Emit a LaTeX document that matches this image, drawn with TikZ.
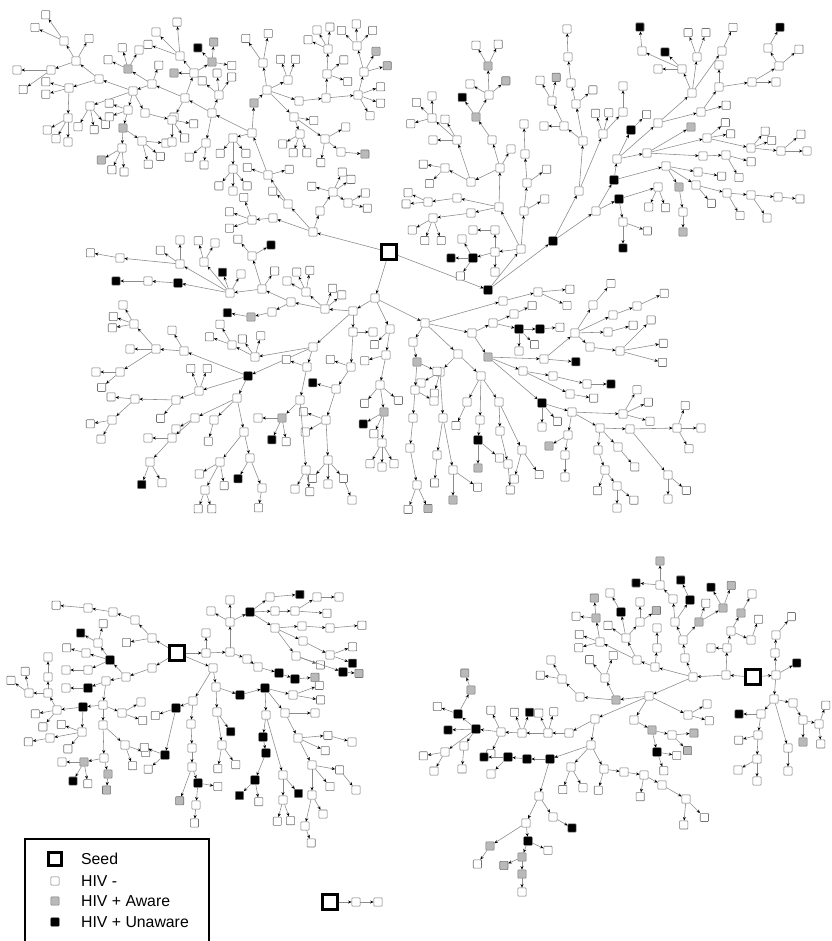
\documentclass[tikz,border=0pt]{standalone}
\usepackage{fontspec}
\setmainfont{Liberation Sans}
\usetikzlibrary{calc,arrows.meta}
\colorlet{N}{white}
\colorlet{A}{gray!55}
\colorlet{U}{black}
\tikzset{%
	nd/.style   = {rectangle, draw=black!55, line width=0.5pt, minimum size=7pt,
		inner sep=0pt, rounded corners=0.6pt},
	hn/.style   = {nd, fill=white}, % HIV -
	ha/.style   = {nd, fill=gray!55}, % HIV + aware
	hu/.style   = {nd, fill=black, draw=black}, % HIV + unaware
	seed/.style = {rectangle, draw=black, line width=2.8pt, fill=white,
		minimum size=12.5pt, inner sep=0pt},
	lnk/.style  = {draw=black!45, line width=0.5pt,
		-{Stealth[length=3pt,width=2.6pt,color=black]}}
}
% one recruit placed at (x,y), linked from its recruiter
\newcommand{\hub}[4]{\node[#2] (#1) at (#3) {}; \draw[lnk] (#4) -- (#1);}
% leaves round a recruiter: angle/colour list
\newcommand{\fan}[3]{\foreach \ang/\col [count=\idx] in {#3} {%
		\node[hn, fill=\col] (#1-\idx) at ($(#1)+(\ang:#2)$) {};
		\draw[lnk] (#1) -- (#1-\idx);}}

\begin{document}
\begin{tikzpicture}[x=0.03cm, y=-0.03cm]
	\useasboundingbox (0,0) rectangle (832,941);

	% main tree
	\node[seed] (s1) at (389,252) {};

	% upper left
	\hub{a0}{hn}{313,232}{s1}
	\hub{b1}{hn}{320,211}{a0}
	\hub{b2}{hn}{333,192}{b1} \fan{b2}{22}{195/N,295/N,325/N}
	\hub{b3}{hn}{348,203}{b2} \fan{b3}{20}{330/N,15/N}
	\hub{b4}{hn}{288,204}{a0} \fan{b4}{20}{220/N}
	\hub{b5}{hn}{268,175}{b4} \fan{b5}{22}{345/N,200/N}
	\hub{b6}{hn}{252,133}{b5}
	\hub{b8}{ha}{254,103}{b6}
	\hub{b9}{hn}{267,90}{b8}
	\hub{b10}{hn}{263,63}{b9} \fan{b10}{30}{235/N,280/N}
	\hub{b11}{hn}{288,80}{b9} \fan{b11}{22}{250/N,290/N}
	\hub{b12}{hn}{299,101}{b9}
	\hub{b13}{hn}{326,98}{b12}
	\hub{b14}{hn}{327,74}{b13} \fan{b14}{22}{320/N,20/N}
	\hub{b15}{hn}{328,49}{b14} \fan{b15}{22}{240/N,275/N,205/N}
	\hub{b16}{hn}{358,95}{b13} \fan{b16}{24}{340/N,20/N,60/N}
	\hub{b17}{hn}{364,72}{b16} \fan{b17}{24}{300/A,345/A}
	\hub{b18}{hn}{357,46}{b17} \fan{b18}{22}{268/N,315/N,225/N}
	\hub{b20}{hn}{294,117}{b9} \fan{b20}{20}{10/N}
	\hub{b21}{hn}{325,139}{b20} \fan{b21}{24}{330/N,100/N}
	\hub{b22}{hn}{341,152}{b21} \fan{b22}{24}{5/A}
	\hub{b23}{hn}{300,134}{b20} \fan{b23}{20}{150/N,110/N,70/N}
	\hub{b7}{hn}{212,113}{b6}
	\hub{b24}{hn}{219,95}{b7} \fan{b24}{22}{265/N,220/N,305/N}
	\hub{b25}{hn}{206,143}{b7} \fan{b25}{22}{140/N,95/N}
	\hub{b26}{hn}{233,138}{b6} \fan{b26}{20}{130/N,50/N}
	\hub{b27}{hn}{233,169}{b26} \fan{b27}{22}{130/N,90/N,50/N}
	\hub{b29}{hn}{273,218}{a0}
	\hub{b30}{hn}{252,220}{b29} \fan{b30}{24}{200/N,160/N,250/N}
	\hub{b31}{hn}{185,98}{b7} \fan{b31}{22}{120/N}
	\hub{b32}{hn}{194,73}{b31} \fan{b32}{20}{180/A}
	\hub{b33}{ha}{212,62}{b32} \fan{b33}{20}{225/U,275/A,10/N}
	\hub{b34}{hn}{180,56}{b32} \fan{b34}{34}{225/N,265/N,200/N}
	\hub{b35}{hn}{152,84}{b31} \fan{b35}{20}{290/N}
	\hub{b36}{ha}{128,69}{b35} \fan{b36}{22}{255/N,300/N,205/N}
	\hub{b37}{hn}{133,91}{b35}
	\hub{b38}{hn}{99,79}{b37}
	\hub{b39}{hn}{76,61}{b38} \fan{b39}{26}{300/N}
	\hub{b40}{hn}{64,41}{b39} \fan{b40}{32}{235/N,205/N}
	\hub{b41}{hn}{51,70}{b39} \fan{b41}{34}{180/N,145/N}
	\hub{b42}{hn}{69,88}{b38} \fan{b42}{24}{165/N,195/N}
	\hub{b43}{hn}{68,118}{b42} \fan{b43}{24}{150/N,120/N,90/N}
	\hub{b44}{hn}{90,106}{b37} \fan{b44}{24}{120/N,80/N,50/N}
	\hub{b45}{hn}{128,110}{b37} \fan{b45}{20}{200/N,160/N}
	\hub{b46}{ha}{123,128}{b45}
	\hub{b47}{hn}{122,148}{b46} \fan{b47}{24}{150/A,115/N,85/N}
	\hub{b48}{hn}{142,141}{b46} \fan{b48}{24}{75/N,40/N,5/N}
	\hub{b49}{hn}{145,113}{b37}
	\hub{b50}{hn}{172,120}{b49} \fan{b50}{22}{10/N,90/N,55/N}

	% upper right
	\hub{c0}{hu}{488,290}{s1}
	\hub{c1}{hn}{521,249}{c0}
	\hub{c2}{hn}{495,252}{c1} \fan{c2}{20}{90/N}
	\hub{c3}{hu}{473,258}{c2} \fan{c3}{22}{180/U,125/N,240/N}
	\hub{c4}{hn}{495,230}{c2} \fan{c4}{22}{180/N}
	\hub{c6}{hn}{524,211}{c1} \fan{c6}{24}{330/N}
	\hub{c7}{hn}{527,183}{c6} \fan{c7}{24}{325/N}
	\hub{c8}{hn}{525,154}{c7} \fan{c8}{30}{268/N}
	\hub{c10}{hn}{499,207}{c1}
	\hub{c11}{hn}{471,213}{c10}
	\hub{c12}{hn}{500,168}{c10} \fan{c12}{22}{300/N}
	\hub{c13}{hn}{471,182}{c12}
	\hub{c14}{hn}{492,140}{c12}
	\hub{c15}{ha}{476,117}{c14} \fan{c15}{24}{235/U}
	\hub{c16}{hn}{489,95}{c15} \fan{c16}{22}{320/A,210/N}
	\hub{c17}{ha}{488,66}{c16} \fan{c17}{24}{240/N,295/N}
	\hub{c18}{hn}{457,140}{c13} \fan{c18}{24}{180/N,240/N}
	\hub{c19}{hn}{432,118}{c18} \fan{c19}{22}{225/N,270/N,165/N}
	\hub{c20}{hn}{457,198}{c10}
	\hub{c21}{hn}{428,202}{c20} \fan{c21}{22}{205/N,175/N}
	\hub{c22}{hn}{433,218}{c11} \fan{c22}{24}{150/N,110/N,70/N}
	\hub{c23}{hn}{445,168}{c13} \fan{c23}{22}{190/N,135/N}

	\hub{d1}{hu}{553,241}{c0}
	\hub{d2}{hn}{579,191}{d1}
	\hub{d3}{hn}{583,141}{d2}
	\hub{d5}{hn}{564,126}{d3} \fan{d5}{20}{180/N}
	\hub{d6}{hn}{552,101}{d5} \fan{d6}{24}{240/N,280/A}
	\hub{d7}{hn}{576,104}{d3} \fan{d7}{22}{320/N}
	\hub{d8}{hn}{571,83}{d7}
	\hub{d9}{hn}{568,57}{d8} \fan{d9}{28}{268/N}
	\hub{d10}{hn}{603,134}{d2} \fan{d10}{22}{250/N,285/N}
	\hub{d10b}{hn}{623,112}{d10} \fan{d10b}{26}{270/N}
	\hub{d4}{hn}{596,211}{d1}
	\hub{d13}{hu}{614,180}{d4}
	\hub{d12}{hn}{617,159}{d13}
	\hub{d11}{hu}{631,130}{d12} \fan{d11}{22}{315/N}
	\hub{d14}{hn}{658,123}{d12}
	\hub{d15}{hn}{701,112}{d14} \fan{d15}{26}{345/N}
	\hub{d16}{hn}{719,87}{d15} \fan{d16}{22}{270/N}
	\hub{d17}{hn}{752,82}{d16} \fan{d17}{24}{0/N}
	\hub{d18}{hn}{779,66}{d17} \fan{d18}{26}{320/N}
	\hub{d19}{hn}{768,48}{d18} \fan{d19}{24}{300/U}
	\hub{d21}{hn}{692,93}{d14}
	\hub{d22}{hn}{697,57}{d21} \fan{d22}{26}{250/N,290/N}
	\hub{d23}{hn}{722,51}{d21} \fan{d23}{26}{295/N}
	\hub{d24}{hn}{682,69}{d21} \fan{d24}{24}{225/U,180/N}
	\hub{d25}{hn}{642,51}{d24} \fan{d25}{24}{265/U}
	\hub{d26}{hn}{647,153}{d12}
	\hub{d34}{ha}{691,127}{d26}
	\hub{d27}{hn}{707,138}{d26} \fan{d27}{24}{320/N,350/N}
	\hub{d28}{hn}{751,148}{d27} \fan{d28}{22}{310/N,340/N}
	\hub{d29}{hn}{781,151}{d28} \fan{d29}{26}{320/N,0/N}
	\hub{d31}{hn}{703,156}{d26}
	\hub{d32}{hn}{726,155}{d31} \fan{d32}{26}{15/N,60/N}
	\hub{d20}{hn}{666,166}{d13}
	\hub{d35}{hn}{698,172}{d20} \fan{d35}{24}{10/N}
	\hub{d36}{hn}{696,185}{d20} \fan{d36}{24}{50/N}
	\hub{d37}{hn}{727,193}{d36} \fan{d37}{26}{60/N}
	\hub{d38}{hn}{751,195}{d37} \fan{d38}{28}{55/N}
	\hub{d39}{hn}{778,197}{d38} \fan{d39}{22}{5/N}
	\hub{d40}{ha}{679,187}{d20}
	\hub{d41}{hn}{683,212}{d40} \fan{d41}{20}{90/A}
	\hub{d30}{hu}{619,199}{d4}
	\hub{d42}{hn}{658,187}{d30} \fan{d42}{22}{115/N,70/N}
	\hub{d43}{hn}{623,222}{d30} \fan{d43}{26}{90/U,20/N}

	% lower part
	\hub{e0}{hn}{375,298}{s1}
	\hub{e1}{hn}{353,311}{e0}
	\hub{e2}{hn}{325,309}{e1} \fan{e2}{22}{290/N,320/N}
	\hub{e3}{hn}{306,292}{e2} \fan{e3}{22}{280/N,245/N,210/N}
	\hub{e4}{hn}{291,302}{e2}
	\hub{e5}{hn}{262,289}{e4} \fan{e5}{22}{305/N}
	\hub{e6}{hn}{272,312}{e4}
	\hub{e7}{ha}{251,317}{e6} \fan{e7}{24}{190/U}
	\hub{e8}{hn}{230,293}{e5} \fan{e8}{22}{250/U,300/N}
	\hub{e9}{hu}{178,283}{e8}
	\hub{e10}{hn}{148,281}{e9} \fan{e10}{32}{180/U}
	\hub{e12}{hn}{180,264}{e8} \fan{e12}{24}{215/N,270/N}
	\hub{e13}{hn}{120,258}{e12} \fan{e13}{30}{190/N}
	\hub{e14}{hn}{204,262}{e8} \fan{e14}{22}{255/N,300/N}
	\hub{e15}{hn}{252,256}{e5} \fan{e15}{22}{230/N,330/U}
	\hub{e20}{hn}{313,347}{e1}
	\hub{e21}{hn}{255,357}{e20} \fan{e21}{22}{235/N,285/N}
	\hub{e23}{hn}{232,345}{e21} \fan{e23}{24}{200/N,240/N}
	\hub{e22}{hu}{248,376}{e20}
	\hub{e24}{hn}{184,351}{e22} \fan{e24}{24}{240/N}
	\hub{e25}{hn}{156,349}{e24} \fan{e25}{26}{180/N}
	\hub{e26}{hn}{134,324}{e25} \fan{e26}{22}{200/N,170/N,240/N}
	\hub{e62}{hn}{120,372}{e25} \fan{e62}{24}{180/N,140/N}
	\hub{e27}{hn}{199,391}{e22} \fan{e27}{24}{250/N,290/N}
	\hub{e28}{hn}{237,398}{e22}
	\hub{e29}{hn}{176,400}{e27} \fan{e29}{24}{130/N}
	\hub{e30}{hn}{135,399}{e29} \fan{e30}{24}{185/N}
	\hub{e63}{hn}{112,420}{e30} \fan{e63}{22}{170/N,120/N}
	\hub{e31}{hn}{195,418}{e28} \fan{e31}{22}{150/N}
	\hub{e32}{hn}{172,438}{e31} \fan{e32}{24}{180/N}
	\hub{e64}{hn}{150,462}{e32} \fan{e64}{24}{110/U,60/N}
	\hub{e33}{hn}{214,420}{e28} \fan{e33}{22}{105/N}
	\hub{e34}{hn}{244,432}{e28}
	\hub{e35}{hn}{220,462}{e34} \fan{e35}{24}{150/N,80/N}
	\hub{e65}{hn}{205,490}{e35} \fan{e65}{20}{110/N,70/N}
	\hub{e36}{hn}{250,458}{e34} \fan{e36}{24}{120/U}
	\hub{e66}{hn}{262,488}{e36} \fan{e66}{20}{100/N}
	\hub{e40}{hn}{353,332}{e1} \fan{e40}{20}{0/N}
	\hub{e41}{hn}{351,367}{e40} \fan{e41}{22}{200/N}
	\hub{e42}{hn}{336,389}{e41} \fan{e42}{24}{195/U}
	\hub{e43}{hn}{326,420}{e42} \fan{e43}{24}{200/N,150/N}
	\hub{e44}{hn}{328,460}{e43} \fan{e44}{24}{130/N,50/N,90/N}
	\hub{e67}{hn}{352,500}{e44-2}
	\hub{e45}{hn}{307,367}{e20} \fan{e45}{22}{200/N}
	\hub{e46}{hn}{300,400}{e45}
	\hub{e47}{ha}{282,418}{e46} \fan{e47}{24}{180/N,115/U,80/N}
	\hub{e48}{hn}{306,470}{e46} \fan{e48}{22}{120/N,80/N}
	\hub{e50}{hn}{390,329}{e0} \fan{e50}{22}{135/N}
	\hub{e51}{hn}{386,355}{e50} \fan{e51}{22}{165/N}
	\hub{e52}{hn}{380,385}{e51} \fan{e52}{24}{130/N,40/N}
	\hub{e53}{ha}{384,412}{e52} \fan{e53}{24}{150/U,115/N}
	\hub{e54}{hn}{382,443}{e53} \fan{e54}{24}{120/N,90/N,60/N}

	\hub{f0}{hn}{425,323}{e0}
	\hub{f1}{hn}{503,301}{f0}
	\hub{f1a}{hn}{538,292}{f1} \fan{f1a}{32}{355/N,25/N}
	\hub{f2}{hn}{472,333}{f0}
	\hub{f2a}{hn}{493,323}{f2}
	\hub{f2b}{hn}{514,314}{f2a} \fan{f2b}{20}{335/N}
	\hub{f2c}{hu}{519,329}{f2a} \fan{f2c}{22}{90/N,45/N}
	\hub{f2d}{hu}{540,329}{f2c} \fan{f2d}{20}{355/N}
	\hub{f3}{ha}{488,357}{f2}
	\hub{f4}{hn}{544,359}{f3} \fan{f4}{32}{5/U}
	\hub{f5}{hn}{575,333}{f4}
	\hub{f6}{hn}{593,305}{f5} \fan{f6}{28}{310/N}
	\hub{f7}{hn}{613,315}{f5}
	\hub{f7a}{hn}{637,306}{f7} \fan{f7a}{30}{335/N}
	\hub{f7b}{hn}{608,332}{f5} \fan{f7b}{26}{345/N}
	\hub{f8a}{hn}{590,347}{f5}
	\hub{f8}{hn}{620,351}{f8a} \fan{f8}{44}{315/N,350/N,15/N}
	\hub{f9}{hn}{523,371}{f3}
	\hub{f9a}{hn}{553,376}{f9}
	\hub{f9b}{hn}{587,384}{f9a} \fan{f9b}{24}{0/U}
	\hub{f9c}{hn}{570,394}{f9} \fan{f9c}{24}{10/N}
	\hub{f10}{hu}{542,403}{f3} \fan{f10}{24}{90/N,50/N}
	\hub{f11}{hn}{572,412}{f10}
	\hub{f12}{hn}{623,414}{f11} \fan{f12}{28}{300/N,335/N,15/N}
	\hub{f13}{hn}{600,428}{f11}
	\hub{f14}{hn}{630,429}{f13}
	\hub{f15}{hn}{677,428}{f14} \fan{f15}{24}{290/N,0/N,60/N}
	\hub{f16}{hn}{568,435}{f11} \fan{f16}{22}{150/A}
	\hub{f17}{hn}{565,455}{f16} \fan{f17}{22}{90/N}
	\hub{f18}{hn}{618,447}{f13} \fan{f18}{26}{50/N}
	\hub{f19}{hn}{598,450}{f13}
	\hub{f20}{hn}{605,470}{f19} \fan{f20}{22}{110/N}
	\hub{f21}{hn}{617,486}{f20} \fan{f21}{22}{90/N,40/N}
	\hub{f22}{hn}{668,475}{f14} \fan{f22}{24}{90/N,40/N}
	\hub{f30}{hn}{458,354}{f0}
	\hub{f31}{hn}{440,372}{f30} \fan{f31}{22}{150/N,105/N}
	\hub{f32}{hn}{481,376}{f30}
	\hub{f33}{hn}{467,402}{f32} \fan{f33}{26}{115/N}
	\hub{f34}{hn}{480,420}{f32}
	\hub{f35}{hu}{478,440}{f34} \fan{f35}{28}{90/A,40/N}
	\hub{f36}{hn}{499,402}{f32}
	\hub{f37}{hn}{500,431}{f36}
	\hub{f38}{hn}{508,464}{f37} \fan{f38}{26}{85/N}
	\hub{f39}{hn}{522,450}{f36} \fan{f39}{30}{105/N,55/N}
	\hub{f50}{hn}{413,342}{f0}
	\hub{f51}{ha}{417,362}{f50} \fan{f51}{22}{25/N}
	\hub{f52}{hn}{415,390}{f51} \fan{f52}{22}{30/N}
	\hub{f53}{hn}{413,418}{f52}
	\hub{f54}{hn}{410,448}{f53}
	\hub{f55}{hn}{417,485}{f54} \fan{f55}{26}{110/N,65/A}
	\hub{f56}{hn}{443,418}{f31}
	\hub{f57}{hn}{437,455}{f56} \fan{f57}{28}{95/N}
	\hub{f58}{hn}{453,470}{f56} \fan{f58}{30}{90/A,35/N}

	% bottom left tree
	\node[seed] (s2) at (177,653) {};
	\hub{g1}{hn}{152,638}{s2} \fan{g1}{26}{170/N}
	\hub{g2}{hn}{135,620}{g1}
	\hub{g3}{hn}{113,612}{g2}
	\hub{g4}{hn}{88,608}{g3} \fan{g4}{32}{185/N}
	\hub{g5}{hn}{152,668}{s2}
	\hub{g6}{hn}{126,677}{g5}
	\hub{g7}{hu}{110,660}{g6}
	\hub{g8}{hn}{98,643}{g7} \fan{g8}{20}{285/N,210/U}
	\hub{g7a}{hn}{86,653}{g7} \fan{g7a}{20}{195/N}
	\hub{g7b}{hn}{88,670}{g7} \fan{g7b}{22}{180/N}
	\hub{g9}{hn}{106,681}{g6}
	\hub{g10}{hu}{88,688}{g9} \fan{g10}{22}{180/N}
	\hub{g11}{hn}{103,705}{g9}
	\hub{g12}{hu}{83,707}{g11}
	\hub{g13}{hn}{57,710}{g12} \fan{g13}{22}{170/N,130/N}
	\hub{g14}{hn}{48,693}{g13}
	\hub{g15}{hn}{48,677}{g14} \fan{g15}{20}{270/N}
	\hub{g16}{hn}{29,693}{g14} \fan{g16}{22}{215/N,260/N}
	\hub{g17}{hn}{82,732}{g12} \fan{g17}{22}{130/N,200/N}
	\hub{g18}{hn}{50,738}{g17} \fan{g18}{22}{170/N}
	\hub{g19}{hn}{103,725}{g11}
	\hub{g20}{hn}{104,758}{g19}
	\hub{g21}{ha}{84,762}{g20} \fan{g21}{22}{180/N,120/U,80/N}
	\hub{g22}{ha}{108,774}{g20} \fan{g22}{16}{95/A}
	\hub{g23}{hn}{122,713}{g11} \fan{g23}{22}{20/N,330/N}
	\hub{g24}{hn}{125,745}{g19} \fan{g24}{22}{20/N,70/N}
	\hub{g30}{hn}{206,653}{s2} \fan{g30}{20}{270/N}
	\hub{g31}{hn}{230,652}{g30}
	\hub{g32}{hn}{230,622}{g31} \fan{g32}{22}{270/N,210/N}
	\hub{g33}{hu}{250,612}{g32}
	\hub{g34}{hn}{270,597}{g33} \fan{g34}{30}{355/U}
	\hub{g35}{hn}{275,611}{g33}
	\hub{g36}{hn}{295,611}{g35} \fan{g36}{32}{4/N}
	\hub{g37}{hn}{317,597}{g36} \fan{g37}{22}{0/N}
	\hub{g38}{hn}{275,628}{g33}
	\hub{g39}{hn}{302,626}{g38}
	\hub{g40}{hn}{330,628}{g39} \fan{g40}{32}{355/N}
	\hub{g41}{hn}{303,641}{g38}
	\hub{g47}{hn}{330,655}{g41} \fan{g47}{24}{340/N,20/U}
	\hub{g46}{hn}{296,656}{g38} \fan{g46}{26}{20/N}
	\hub{g48}{hu}{343,672}{g46} \fan{g48}{16}{5/A}
	\hub{g42}{hn}{247,659}{g31}
	\hub{g43}{hn}{258,667}{g42}
	\hub{g44}{hu}{279,673}{g43}
	\hub{g45}{hu}{295,679}{g44} \fan{g45}{20}{355/A}
	\hub{g50}{hn}{213,668}{s2}
	\hub{g51}{hn}{216,687}{g50}
	\hub{g52}{hu}{240,695}{g51}
	\hub{g53}{hu}{265,688}{g52}
	\hub{g54}{hn}{293,695}{g53} \fan{g54}{28}{340/N,10/N}
	\hub{g55}{hn}{285,713}{g53} \fan{g55}{30}{0/N}
	\hub{g56}{hn}{298,738}{g55} \fan{g56}{30}{355/N,25/N}
	\hub{g86}{hn}{352,742}{g56-1}
	\hub{g57}{hn}{312,765}{g56} \fan{g57}{28}{10/N,50/N}
	\hub{g87}{hn}{356,790}{g57-1}
	\hub{g82}{hn}{312,795}{g57} \fan{g82}{22}{60/N}
	\hub{g83}{hn}{305,826}{g82} \fan{g83}{18}{70/N}
	\hub{g58}{hn}{266,715}{g53}
	\hub{g59}{hu}{263,737}{g58}
	\hub{g60}{hu}{266,753}{g59}
	\hub{g61}{hu}{255,780}{g60} \fan{g61}{22}{135/U,80/N}
	\hub{g62}{hn}{283,775}{g58} \fan{g62}{24}{50/U}
	\hub{g85}{hn}{283,800}{g62} \fan{g85}{22}{105/N,70/N}
	\hub{g63}{hn}{193,701}{g50}
	\hub{g64}{hu}{176,708}{g63} \fan{g64}{22}{160/N}
	\hub{g65}{hn}{191,724}{g63}
	\hub{g66}{hn}{192,748}{g65}
	\hub{g67}{hn}{192,767}{g66} \fan{g67}{36}{110/A}
	\hub{g68}{hu}{198,783}{g67} \fan{g68}{20}{10/N}
	\hub{g84}{hn}{196,805}{g68} \fan{g84}{18}{95/N}
	\hub{g69}{hu}{165,755}{g64} \fan{g69}{22}{200/N,140/N}
	\hub{g70}{hn}{217,712}{g51} \fan{g70}{24}{55/U}
	\hub{g71}{hn}{222,745}{g70} \fan{g71}{24}{100/N,55/N}

	% bottom right tree
	\node[seed] (s3) at (753,677) {};
	\hub{h1}{hn}{726,675}{s3}
	\hub{h2}{hn}{693,677}{h1}
	\hub{h3}{hn}{727,648}{h1} \fan{h3}{16}{180/N}
	\hub{h4}{hn}{731,631}{h3}
	\hub{h5}{ha}{741,613}{h4} \fan{h5}{22}{300/N}
	\hub{h6}{hn}{751,640}{h4} \fan{h6}{22}{290/N}
	\hub{h10}{hn}{776,675}{s3} \fan{h10}{24}{330/U}
	\hub{h12}{hn}{775,653}{h10}
	\hub{h13}{hn}{776,635}{h12} \fan{h13}{24}{310/N}
	\hub{h14}{hn}{774,699}{h10}
	\hub{h15}{hn}{761,714}{h14} \fan{h15}{22}{180/U}
	\hub{h16}{hn}{758,735}{h15} \fan{h16}{20}{165/N}
	\hub{h17}{hn}{757,759}{h16} \fan{h17}{22}{150/N,90/N}
	\hub{h18}{hn}{793,703}{h14}
	\hub{h19}{hn}{803,720}{h18} \fan{h19}{22}{90/A}
	\hub{h20}{hn}{819,724}{h19} \fan{h20}{20}{290/N,85/N}
	\hub{h21}{hn}{788,748}{h14} \fan{h21}{23}{90/N}
	\hub{h22}{hn}{685,658}{h2}
	\hub{h23}{hn}{683,640}{h22}
	\hub{h24}{hn}{675,622}{h23}
	\hub{h25}{hn}{673,599}{h24}
	\hub{h26}{hn}{660,585}{h25} \fan{h26}{24}{185/U,270/A}
	\hub{h27}{hu}{690,600}{h24} \fan{h27}{22}{245/U}
	\hub{h28}{ha}{699,622}{h23} \fan{h28}{20}{290/N}
	\hub{h29}{ha}{723,608}{h28} \fan{h29}{24}{240/U,290/A}
	\hub{h30}{hn}{655,667}{h2}
	\hub{h31}{hn}{657,648}{h30} \fan{h31}{20}{270/N}
	\hub{h32}{hn}{637,660}{h30}
	\hub{h33}{hn}{626,638}{h32} \fan{h33}{22}{215/N}
	\hub{h34}{hn}{640,622}{h33} \fan{h34}{20}{270/N,325/A}
	\hub{h35}{hu}{621,612}{h33} \fan{h35}{22}{240/N}
	\hub{h36}{hn}{600,642}{h32} \fan{h36}{22}{200/N,165/N}
	\hub{h37}{ha}{596,618}{h36} \fan{h37}{20}{265/A,185/N}
	\hub{h40}{hn}{649,696}{h2}
	\hub{h41}{ha}{616,700}{h40}
	\hub{h42}{hn}{605,678}{h41} \fan{h42}{24}{230/N,290/N}
	\hub{h43}{hn}{580,697}{h41}
	\hub{h44}{hn}{562,679}{h43} \fan{h44}{22}{240/N,190/N}
	\hub{h45}{hn}{595,719}{h40}
	\hub{h46}{hn}{569,733}{h45}
	\hub{h47}{hn}{548,733}{h46} \fan{h47}{22}{245/N,285/N}
	\hub{h48}{hn}{522,733}{h47} \fan{h48}{22}{250/N,290/U}
	\hub{h49}{hn}{501,732}{h48} \fan{h49}{24}{245/N,115/N}
	\hub{h50}{hu}{476,729}{h49} \fan{h50}{28}{178/U}
	\hub{h51}{hu}{458,714}{h50} \fan{h51}{22}{200/N}
	\hub{h52}{ha}{471,690}{h51} \fan{h52}{18}{250/A}
	\hub{h53}{hn}{464,746}{h50} \fan{h53}{23}{95/N}
	\hub{h80}{hn}{445,752}{h50} \fan{h80}{22}{170/N,120/N}
	\hub{h55}{hn}{591,745}{h45}
	\hub{h56}{hu}{550,759}{h55}
	\hub{h57}{hu}{527,759}{h56}
	\hub{h58}{hu}{508,757}{h57} \fan{h58}{24}{180/U,135/N}
	\hub{h59}{hn}{539,796}{h56}
	\hub{h60}{hn}{526,823}{h59}
	\hub{h61}{hu}{528,841}{h60} \fan{h61}{22}{25/N}
	\hub{h62}{ha}{522,857}{h61} \fan{h62}{20}{155/A}
	\hub{h63}{ha}{522,874}{h62} \fan{h63}{18}{90/N}
	\hub{h64}{hn}{553,817}{h59} \fan{h64}{22}{30/U}
	\hub{h65}{ha}{490,846}{h60} \fan{h65}{22}{125/N}
	\hub{h66}{hn}{571,767}{h55} \fan{h66}{24}{110/N,60/N}
	\hub{h67}{hn}{604,769}{h55} \fan{h67}{22}{105/N}
	\hub{h68}{hn}{624,772}{h67}
	\hub{h69}{hn}{644,775}{h68} \fan{h69}{22}{100/N}
	\hub{h70}{hn}{662,785}{h69}
	\hub{h71}{hn}{686,799}{h70} \fan{h71}{26}{95/N,45/N}
	\hub{h72}{hn}{634,720}{h40}
	\hub{h73}{ha}{652,730}{h72}
	\hub{h74}{hn}{672,735}{h73} \fan{h74}{22}{355/A,45/A}
	\hub{h75}{hu}{657,752}{h73} \fan{h75}{20}{10/N,70/N}
	\hub{h76}{hn}{688,715}{h40} \fan{h76}{22}{330/N,15/N}

	% small tree
	\node[seed] (s4) at (330,902) {};
	\hub{t1}{hn}{356,902}{s4}
	\hub{t2}{hn}{378,902}{t1}

	% legend
	\draw[line width=0.9pt] (25,945) -- (25,839) -- (209,839) -- (209,945);
	\node[seed, minimum size=11pt, line width=2.6pt] (lg1) at (55,859) {};
	\node[hn] (lg2) at (55,881) {};
	\node[ha] (lg3) at (55,901) {};
	\node[hu] (lg4) at (55,922) {};
	\node[anchor=west, font=\fontsize{13.5}{16}\selectfont] (lt1) at (77,859) {Seed};
	\node[anchor=west, font=\fontsize{13.5}{16}\selectfont] (lt2) at (77,881) {HIV -};
	\node[anchor=west, font=\fontsize{13.5}{16}\selectfont] (lt3) at (77,901) {HIV + Aware};
	\node[anchor=west, font=\fontsize{13.5}{16}\selectfont] (lt4) at (77,922) {HIV + Unaware};
\end{tikzpicture}
\end{document}
